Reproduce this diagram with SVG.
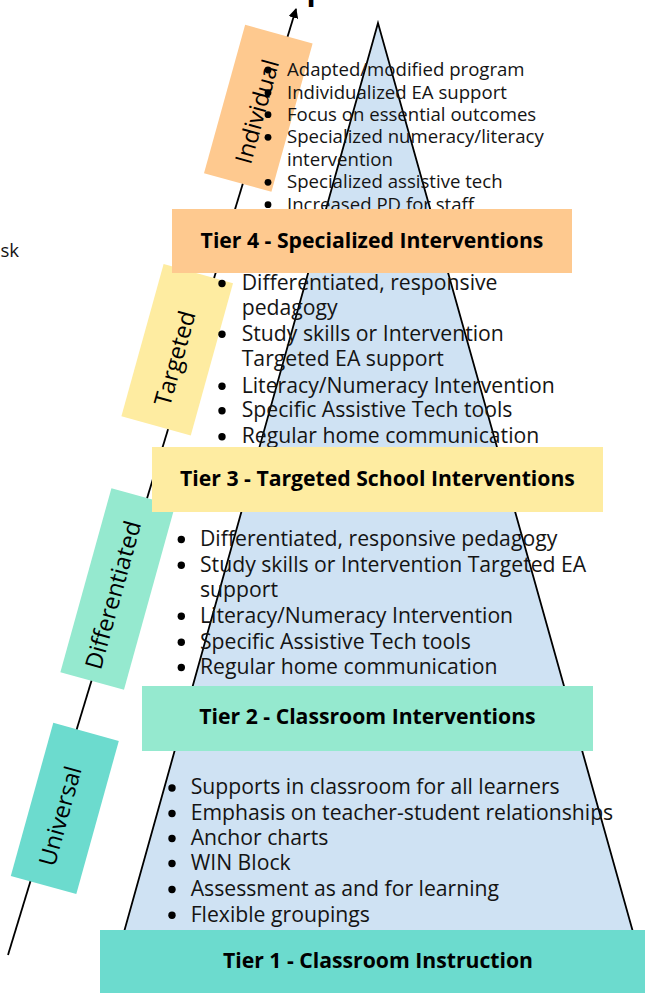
<svg xmlns="http://www.w3.org/2000/svg" width="645" height="993" viewBox="0 0 645 993">
  <defs>
    <marker id="arrowhead" viewBox="0 0 10 10" refX="9" refY="5" markerWidth="5.5" markerHeight="5.5" orient="auto" markerUnits="strokeWidth">
      <path d="M0,0 L10,5 L0,10 z" fill="#000"/>
    </marker>
    <style>
      .bullets { font-family: "Open Sans", "Liberation Sans", sans-serif; fill: #141414; }
      .small { font-size: 18.6px; }
      .big { font-size: 21.2px; }
      .tier { font-family: "Open Sans", "Liberation Sans", sans-serif; font-weight: bold; font-size: 21.2px; fill: #000; text-anchor: middle; }
      .tag { font-family: "Open Sans", "Liberation Sans", sans-serif; font-size: 23.5px; fill: #000; text-anchor: middle; }
      .dot { fill: #000; }
      .axis { stroke: #000; stroke-width: 1.8; fill: none; }
    </style>
  </defs>
  <rect width="645" height="993" fill="#fff"/>

  <!-- title descender peeking in at the top -->
  <text x="306.5" y="0" font-family="Open Sans, Liberation Sans, sans-serif" font-weight="bold" font-size="30" fill="#000">p</text>

  <!-- stray label at left edge -->
  <text x="0.5" y="257.3" class="bullets small">sk</text>

  <!-- pyramid -->
  <g id="pyramid">
    <polygon points="378,23 124,932 633,932" fill="#cfe2f3" stroke="#000" stroke-width="1.8" stroke-linejoin="miter"/>
  </g>

  <!-- support-level axis -->
  <g id="connectors">
    <line class="axis" x1="8" y1="955" x2="296" y2="9" marker-end="url(#arrowhead)"/>
  </g>

  <!-- tilted level tags -->
  <g id="tag-individual" transform="translate(258.3,108.3) rotate(-74.5)">
    <rect x="-77" y="-35" width="154" height="70" fill="#fec98f"/>
    <text class="tag" x="-3.4" y="8">Individual</text>
  </g>
  <g id="tag-targeted" transform="translate(177.2,349.7) rotate(-74.5)">
    <rect x="-79" y="-36" width="158" height="72" fill="#feeca1"/>
    <text class="tag" x="-9" y="8.4">Targeted</text>
  </g>
  <g id="tag-differentiated" transform="translate(117.7,589) rotate(-74.5)">
    <rect x="-95.5" y="-33" width="191" height="66" fill="#95e9cf"/>
    <text class="tag" x="-7" y="5.4">Differentiated</text>
  </g>
  <g id="tag-universal" transform="translate(64.8,808.4) rotate(-74.5)">
    <rect x="-79.5" y="-34" width="159" height="68" fill="#6cdbce"/>
    <text class="tag" x="-8.6" y="5.8">Universal</text>
  </g>

  <!-- tier 4 bullet list -->
  <g id="list-tier4" class="bullets small">
    <circle class="dot" cx="268" cy="70" r="3.4"/>
    <circle class="dot" cx="268" cy="92.7" r="3.4"/>
    <circle class="dot" cx="268" cy="114.7" r="3.4"/>
    <circle class="dot" cx="268" cy="137.3" r="3.4"/>
    <circle class="dot" cx="268" cy="182.3" r="3.4"/>
    <circle class="dot" cx="268" cy="204.7" r="3.4"/>
    <text x="287" y="76">Adapted/modified program</text>
    <text x="287" y="98.7">Individualized EA support</text>
    <text x="287" y="120.7">Focus on essential outcomes</text>
    <text x="287" y="143.3">Specialized numeracy/literacy</text>
    <text x="287" y="165.7">intervention</text>
    <text x="287" y="188.3">Specialized assistive tech</text>
    <text x="287" y="210.7">Increased PD for staff</text>
  </g>

  <!-- tier 3 bullet list -->
  <g id="list-tier3" class="bullets big">
    <circle class="dot" cx="222" cy="283.5" r="3.7"/>
    <circle class="dot" cx="222" cy="334.2" r="3.7"/>
    <circle class="dot" cx="222" cy="386.2" r="3.7"/>
    <circle class="dot" cx="222" cy="410.8" r="3.7"/>
    <circle class="dot" cx="222" cy="436.8" r="3.7"/>
    <text x="241.7" y="290">Differentiated, responsive</text>
    <text x="241.7" y="315">pedagogy</text>
    <text x="241.7" y="340.7">Study skills or Intervention</text>
    <text x="241.7" y="366">Targeted EA support</text>
    <text x="241.7" y="392.7">Literacy/Numeracy Intervention</text>
    <text x="241.7" y="417.3">Specific Assistive Tech tools</text>
    <text x="241.7" y="443.3">Regular home communication</text>
  </g>

  <!-- tier 2 bullet list -->
  <g id="list-tier2" class="bullets big">
    <circle class="dot" cx="181.3" cy="539.5" r="3.7"/>
    <circle class="dot" cx="181.3" cy="565.2" r="3.7"/>
    <circle class="dot" cx="181.3" cy="616.2" r="3.7"/>
    <circle class="dot" cx="181.3" cy="642.2" r="3.7"/>
    <circle class="dot" cx="181.3" cy="667.5" r="3.7"/>
    <text x="200" y="546">Differentiated, responsive pedagogy</text>
    <text x="200" y="571.7">Study skills or Intervention Targeted EA</text>
    <text x="200" y="597.3">support</text>
    <text x="200" y="622.7">Literacy/Numeracy Intervention</text>
    <text x="200" y="648.7">Specific Assistive Tech tools</text>
    <text x="200" y="674">Regular home communication</text>
  </g>

  <!-- tier 1 bullet list -->
  <g id="list-tier1" class="bullets big">
    <circle class="dot" cx="172" cy="788" r="3.7"/>
    <circle class="dot" cx="172" cy="813.5" r="3.7"/>
    <circle class="dot" cx="172" cy="838.5" r="3.7"/>
    <circle class="dot" cx="172" cy="863.5" r="3.7"/>
    <circle class="dot" cx="172" cy="889.5" r="3.7"/>
    <circle class="dot" cx="172" cy="915.2" r="3.7"/>
    <text x="190.7" y="794.3">Supports in classroom for all learners</text>
    <text x="190.7" y="820">Emphasis on teacher-student relationships</text>
    <text x="190.7" y="845">Anchor charts</text>
    <text x="190.7" y="870">WIN Block</text>
    <text x="190.7" y="896">Assessment as and for learning</text>
    <text x="190.7" y="921.7">Flexible groupings</text>
  </g>

  <!-- tier bands -->
  <g id="tier4">
    <rect x="172" y="209" width="400" height="64" fill="#fec98f"/>
    <text class="tier" x="372" y="248">Tier 4 - Specialized Interventions</text>
  </g>
  <g id="tier3">
    <rect x="152" y="447" width="451" height="65" fill="#feeca1"/>
    <text class="tier" x="377.5" y="486">Tier 3 - Targeted School Interventions</text>
  </g>
  <g id="tier2">
    <rect x="142" y="686" width="451" height="65" fill="#95e9cf"/>
    <text class="tier" x="367.5" y="724">Tier 2 - Classroom Interventions</text>
  </g>
  <g id="tier1">
    <rect x="100" y="930" width="545" height="63" fill="#6cdbce"/>
    <text class="tier" x="378" y="968">Tier 1 - Classroom Instruction</text>
  </g>
</svg>
